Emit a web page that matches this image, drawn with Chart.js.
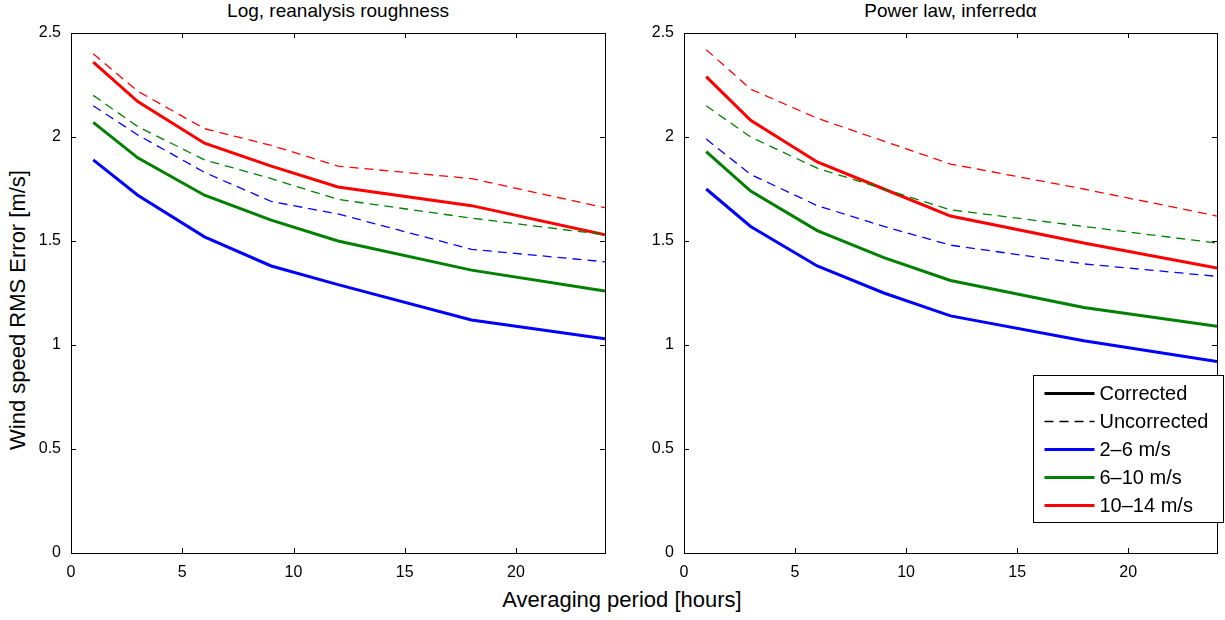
<!DOCTYPE html>
<html>
<head>
<meta charset="utf-8">
<script src="https://cdn.jsdelivr.net/npm/chart.js@4"></script>
<style>
  body { margin: 0; width: 1225px; height: 620px; background: #fff; position: relative; overflow: hidden;
         font-family: "Liberation Sans", Arial, sans-serif; color: #000; }
  canvas { position: absolute; top: 0; }
  .title { position: absolute; top: 0; font-size: 19px; text-align: center; white-space: nowrap; }
  #ytitle { position: absolute; left: 18px; top: 310px; font-size: 22px; white-space: nowrap;
            transform: translate(-50%, -50%) rotate(-90deg); }
  #xtitle { position: absolute; left: 622px; top: 600px; font-size: 22px; white-space: nowrap;
            transform: translate(-50%, -50%); }
</style>
</head>
<body>
<div class="title" style="left:71px;width:534px">Log, reanalysis roughness</div>
<div class="title" style="left:684px;width:533px">Power law, inferredα</div>
<div id="ytitle">Wind speed RMS Error [m/s]</div>
<div id="xtitle">Averaging period [hours]</div>
<canvas id="left" width="625" height="620" style="left:0"></canvas>
<canvas id="right" width="600" height="620" style="left:625px"></canvas>
<script>
// averaging periods (hours)
const periods = [1, 3, 6, 9, 12, 18, 24];
const xTicks = [0, 5, 10, 15, 20];
const yTicks = [0, 0.5, 1, 1.5, 2, 2.5];

// Log, reanalysis roughness
const logBlueCorr  = [1.89, 1.72, 1.52, 1.38, 1.29, 1.12, 1.03];
const logBlueUnc   = [2.15, 2.01, 1.83, 1.69, 1.63, 1.46, 1.40];
const logGreenCorr = [2.07, 1.90, 1.72, 1.60, 1.50, 1.36, 1.26];
const logGreenUnc  = [2.20, 2.05, 1.89, 1.80, 1.70, 1.61, 1.53];
const logRedCorr   = [2.36, 2.17, 1.97, 1.86, 1.76, 1.67, 1.53];
const logRedUnc    = [2.40, 2.22, 2.04, 1.96, 1.86, 1.80, 1.66];

// Power law, inferred alpha
const powBlueCorr  = [1.75, 1.57, 1.38, 1.25, 1.14, 1.02, 0.92];
const powBlueUnc   = [1.99, 1.82, 1.67, 1.57, 1.48, 1.39, 1.33];
const powGreenCorr = [1.93, 1.74, 1.55, 1.42, 1.31, 1.18, 1.09];
const powGreenUnc  = [2.15, 2.00, 1.85, 1.75, 1.65, 1.57, 1.49];
const powRedCorr   = [2.29, 2.08, 1.88, 1.75, 1.62, 1.49, 1.37];
const powRedUnc    = [2.42, 2.23, 2.09, 1.98, 1.87, 1.75, 1.62];

const BLUE = '#0000ff', GREEN = '#008000', RED = '#ff0000';
const DASH = [9, 6];
const tickFont = { family: '"Liberation Sans", Arial, sans-serif', size: 16 };

function line(data, color, dashed) {
  return {
    data: data.map((v, i) => ({ x: periods[i], y: v })),
    borderColor: color,
    borderWidth: dashed ? 1.3 : 3,
    borderDash: dashed ? DASH : [],
    pointRadius: 0,
    tension: 0,
    fill: false
  };
}

// box around plot + inward ticks on all four sides (matlab style)
const boxTicks = {
  id: 'boxTicks',
  afterDatasetsDraw(chart) {
    const { ctx, chartArea: a, scales } = chart;
    const len = 5;
    ctx.save();
    ctx.strokeStyle = '#000';
    ctx.lineWidth = 1;
    ctx.beginPath();
    xTicks.forEach(v => {
      const px = Math.round(scales.x.getPixelForValue(v)) + 0.5;
      ctx.moveTo(px, a.bottom); ctx.lineTo(px, a.bottom - len);
      ctx.moveTo(px, a.top); ctx.lineTo(px, a.top + len);
    });
    yTicks.forEach(v => {
      const py = Math.round(scales.y.getPixelForValue(v)) + 0.5;
      ctx.moveTo(a.left, py); ctx.lineTo(a.left + len, py);
      ctx.moveTo(a.right, py); ctx.lineTo(a.right - len, py);
    });
    ctx.stroke();
    ctx.strokeRect(Math.round(a.left) + 0.5, Math.round(a.top) + 0.5,
                   Math.round(a.right - a.left), Math.round(a.bottom - a.top));
    ctx.restore();
  }
};

// legend box in the right panel
const legendBox = {
  id: 'legendBox',
  afterDraw(chart) {
    if (!chart.options.plugins.legendBox || !chart.options.plugins.legendBox.show) return;
    const ctx = chart.ctx;
    const items = [
      { label: 'Corrected', color: '#000', dash: [], w: 3 },
      { label: 'Uncorrected', color: '#000', dash: DASH, w: 1.3 },
      { label: '2\u20136 m/s', color: BLUE, dash: [], w: 3 },
      { label: '6\u201310 m/s', color: GREEN, dash: [], w: 3 },
      { label: '10\u201314 m/s', color: RED, dash: [], w: 3 }
    ];
    const x0 = 408.5, y0 = 375.5, w = 190, h = 147;
    ctx.save();
    ctx.fillStyle = '#fff';
    ctx.fillRect(x0, y0, w, h);
    ctx.strokeStyle = '#000';
    ctx.lineWidth = 1;
    ctx.strokeRect(x0, y0, w, h);
    ctx.font = '20px "Liberation Sans", Arial, sans-serif';
    ctx.textBaseline = 'middle';
    items.forEach((it, i) => {
      const y = y0 + 18 + i * 28;
      ctx.beginPath();
      ctx.setLineDash(it.dash);
      ctx.strokeStyle = it.color;
      ctx.lineWidth = it.w;
      ctx.moveTo(x0 + 11, y);
      ctx.lineTo(x0 + 61, y);
      ctx.stroke();
      ctx.setLineDash([]);
      ctx.fillStyle = '#000';
      ctx.fillText(it.label, x0 + 66, y + 1);
    });
    ctx.restore();
  }
};

function makeChart(id, series, yWidth, padRight, showLegend) {
  const datasets = [
    line(series[0], BLUE, false), line(series[1], BLUE, true),
    line(series[2], GREEN, false), line(series[3], GREEN, true),
    line(series[4], RED, false), line(series[5], RED, true)
  ];
  return new Chart(document.getElementById(id), {
    type: 'line',
    data: { datasets },
    options: {
      responsive: false,
      animation: false,
      layout: { padding: { top: 33, right: padRight, left: 0, bottom: 0 } },
      plugins: {
        legend: { display: false },
        tooltip: { enabled: false },
        legendBox: { show: showLegend }
      },
      scales: {
        x: {
          type: 'linear', min: 0, max: 24,
          grid: { display: false, drawTicks: false },
          border: { display: false },
          ticks: { color: '#000', font: tickFont, padding: 10, maxRotation: 0,
                   callback: v => String(v) },
          afterBuildTicks: s => { s.ticks = xTicks.map(v => ({ value: v })); },
          afterFit: s => { s.height = 67; }
        },
        y: {
          min: 0, max: 2.5,
          grid: { display: false, drawTicks: false },
          border: { display: false },
          ticks: { color: '#000', font: tickFont, padding: 10,
                   callback: v => String(v) },
          afterBuildTicks: s => { s.ticks = yTicks.map(v => ({ value: v })); },
          afterFit: s => { s.width = yWidth; }
        }
      }
    },
    plugins: [boxTicks, legendBox]
  });
}

makeChart('left', [logBlueCorr, logBlueUnc, logGreenCorr, logGreenUnc, logRedCorr, logRedUnc], 71, 20, false);
makeChart('right', [powBlueCorr, powBlueUnc, powGreenCorr, powGreenUnc, powRedCorr, powRedUnc], 59, 8, true);
</script>
</body>
</html>
